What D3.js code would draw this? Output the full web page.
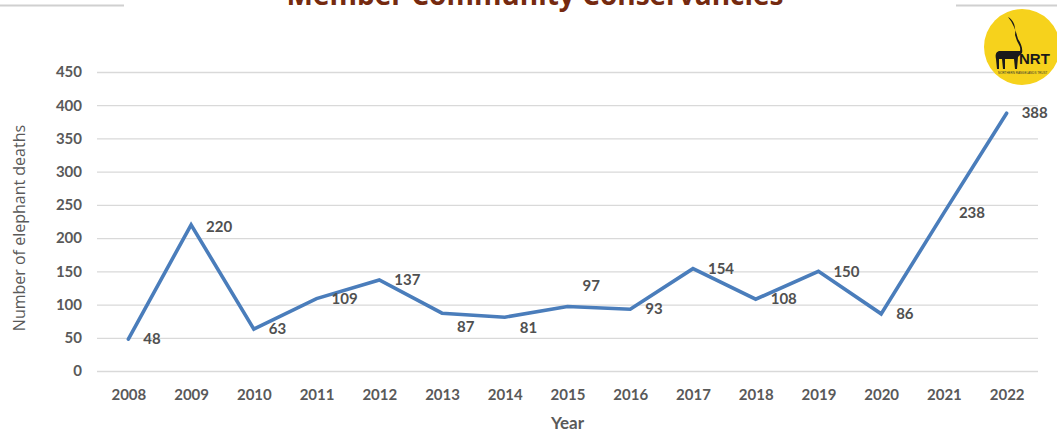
<!DOCTYPE html>
<html><head><meta charset="utf-8">
<script src="https://cdn.jsdelivr.net/npm/d3@7"></script>
<style>
html,body{margin:0;padding:0;background:#fff;}
svg{display:block;}
</style></head>
<body>
<svg id="chart" width="1057" height="434"></svg>
<script>
const years = ["2008","2009","2010","2011","2012","2013","2014","2015","2016","2017","2018","2019","2020","2021","2022"];
const deaths = [48,220,63,109,137,87,81,97,93,154,108,150,86,238,388];
const yTicks = [0,50,100,150,200,250,300,350,400,450];
const title = "Member Community Conservancies";
const yTitle = "Number of elephant deaths";
const xTitle = "Year";

// label nudges (styling, by year)
const labelDy = {"2013":14,"2014":11,"2015":-21,"2009":2};

const svg = d3.select("#chart");
const pL = 97, pR = 1038, pT = 72, pB = 371;

const x = d3.scalePoint().domain(years).range([pL, pR]).padding(0.5);
const y = d3.scaleLinear().domain([0,450]).range([pB, pT]);

const txt = "#595959";
const font = "Lato, 'Open Sans', sans-serif";

// decorative top lines
svg.append("line").attr("x1",0).attr("x2",124).attr("y1",5.5).attr("y2",5.5).attr("stroke","#d0d0d0").attr("stroke-width",2);
svg.append("line").attr("x1",956).attr("x2",1057).attr("y1",5.5).attr("y2",5.5).attr("stroke","#d0d0d0").attr("stroke-width",2);

// title (cropped at top, as in the source image)
svg.append("text").attr("x",535).attr("y",5).attr("text-anchor","middle")
  .attr("font-family","'Open Sans', sans-serif").attr("font-weight",700).attr("font-size",28)
  .attr("fill","#752a10").text(title);

// gridlines + y axis
const yAxis = d3.axisLeft(y).tickValues(yTicks).tickSize(-(pR-pL)).tickPadding(15);
const gy = svg.append("g").attr("transform",`translate(${pL},0)`).call(yAxis);
gy.select(".domain").remove();
gy.selectAll(".tick line").attr("stroke","#d9d9d9").attr("stroke-width",1.3);
gy.selectAll(".tick text").attr("font-family",font).attr("font-size",15).attr("font-weight",700).attr("fill",txt);

// x axis
const xAxis = d3.axisBottom(x).tickSize(0).tickPadding(18);
const gx = svg.append("g").attr("transform",`translate(0,${pB})`).call(xAxis);
gx.select(".domain").remove();
gx.selectAll(".tick text").attr("font-family",font).attr("font-size",15).attr("font-weight",700).attr("fill",txt);

// axis titles
svg.append("text").attr("transform","translate(25,228) rotate(-90)").attr("text-anchor","middle")
  .attr("font-family","'Open Sans', sans-serif").attr("font-size",16).attr("fill",txt).text(yTitle);
svg.append("text").attr("x",(pL+pR)/2).attr("y",429).attr("text-anchor","middle")
  .attr("font-family",font).attr("font-size",17).attr("font-weight",700).attr("fill",txt).text(xTitle);

// line
const data = years.map((yr,i)=>({yr, v:deaths[i]}));
const line = d3.line().x(d=>x(d.yr)).y(d=>y(d.v));
svg.append("path").datum(data).attr("d",line).attr("fill","none")
  .attr("stroke","#4a7dbb").attr("stroke-width",3.6).attr("stroke-linejoin","miter").attr("stroke-linecap","round");

// data labels
svg.append("g").selectAll("text").data(data).join("text")
  .attr("x",d=>x(d.yr)+15).attr("y",d=>y(d.v)+(labelDy[d.yr]||0))
  .attr("dy","0.35em").attr("font-family",font).attr("font-size",15).attr("font-weight",700)
  .attr("fill","#505050").text(d=>d.v);

// NRT logo
const logo = svg.append("g").attr("transform","translate(1022,47)");
logo.append("circle").attr("r",38).attr("fill","#f6d21c");
logo.append("path").attr("fill","#1a1a1a")
  .attr("d","M-14,-30 C-8,-27 -6,-20 -7,-12 L-5,-6 C-3,-2 -1,0 -2,4 L-22,4 C-26,4 -27,8 -26,12 L-25,22 L-23,22 L-23,12 L-20,12 L-19,22 L-17,22 L-17,12 L-8,12 L-7,22 L-5,22 L-4,10 L0,6 C1,2 -1,-4 -4,-8 C-6,-16 -9,-24 -14,-30 Z");
logo.append("text").attr("x",-3).attr("y",17).attr("font-family","'Liberation Sans', sans-serif")
  .attr("font-weight",700).attr("font-size",15).attr("fill","#1a1a1a").text("NRT");
logo.append("text").attr("x",-24).attr("y",27).attr("font-family","'Liberation Sans', sans-serif")
  .attr("font-size",3).attr("fill","#333").text("NORTHERN RANGELANDS TRUST");
</script>
</body></html>
